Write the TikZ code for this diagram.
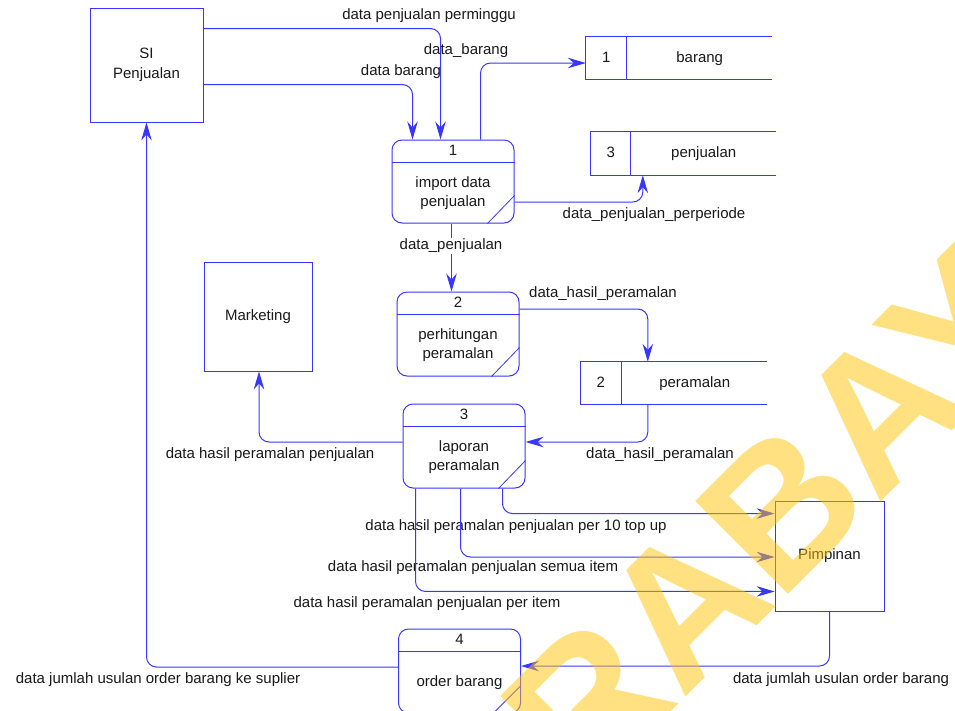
\documentclass[tikz,border=0pt]{standalone}
\usepackage{fontspec}
\setmainfont{Liberation Sans}
\usetikzlibrary{arrows.meta}
\definecolor{lnblue}{RGB}{55,55,255}
\definecolor{txt}{RGB}{25,25,25}
\definecolor{wmyellow}{RGB}{255,195,5}
\tikzset{
  base/.style={font=\fontsize{15}{19.5}\selectfont, text=txt},
  proc/.style={draw=lnblue, line width=1pt, rounded corners=10pt, minimum width=122pt, minimum height=84pt, inner sep=0pt},
  ent/.style={draw=lnblue, line width=0.9pt, inner sep=0pt, align=center},
  store/.style={inner sep=0pt, minimum width=186pt, minimum height=42pt},
  edge/.style={draw=lnblue, line width=1pt},
  stxt/.style={text height=11pt, text depth=3pt},
  flow/.style={draw=lnblue, line width=1pt, rounded corners=10pt, -{Stealth[length=18pt,width=10.5pt,inset=6pt]}},
  lbl/.style={inner sep=1pt, align=center},
}
\begin{document}
\begin{tikzpicture}[x=1pt,y=-1pt,base]
\useasboundingbox (0,0) rectangle (955,710);

% external entities
\node[ent, minimum width=113pt, minimum height=114pt] (si) at (146.5,65) {SI\\Penjualan};
\node[ent, minimum width=108pt, minimum height=109pt] (mkt) at (258,316.5) {Marketing};
\node[ent, minimum width=109pt, minimum height=110pt] (pim) at (829.5,556) {Pimpinan};

% processes
\node[proc, minimum height=83pt] (p1) at (453,181.5) {};
\draw[edge] ([yshift=-23pt]p1.north west) -- ([yshift=-23pt]p1.north east);
\draw[edge, line width=0.8pt] ([xshift=-27pt]p1.south east) -- ([yshift=28pt]p1.south east);
\node[stxt] (p1n) at ([yshift=-11.5pt]p1.north) {1};
\node[align=center] (p1t) at ([yshift=-11.5pt]p1.center) {import data\\penjualan};

\node[proc] (p2) at (458,334) {};
\draw[edge] ([yshift=-23pt]p2.north west) -- ([yshift=-23pt]p2.north east);
\draw[edge, line width=0.8pt] ([xshift=-28pt]p2.south east) -- ([yshift=29pt]p2.south east);
\node[stxt] (p2n) at ([yshift=-11.5pt]p2.north) {2};
\node[align=center] (p2t) at ([yshift=-11pt]p2.center) {perhitungan\\peramalan};

\node[proc] (p3) at (464,446) {};
\draw[edge] ([yshift=-23pt]p3.north west) -- ([yshift=-23pt]p3.north east);
\draw[edge, line width=0.8pt] ([xshift=-27pt]p3.south east) -- ([yshift=28pt]p3.south east);
\node[stxt] (p3n) at ([yshift=-11.5pt]p3.north) {3};
\node[align=center] (p3t) at ([yshift=-11pt]p3.center) {laporan\\peramalan};

\node[proc] (p4) at (459.5,671) {};
\draw[edge] ([yshift=-23pt]p4.north west) -- ([yshift=-23pt]p4.north east);
\draw[edge, line width=0.8pt] ([xshift=-28pt]p4.south east) -- ([yshift=28pt]p4.south east);
\node[stxt] (p4n) at ([yshift=-11.5pt]p4.north) {4};
\node[stxt] (p4t) at ([yshift=-11pt]p4.center) {order barang};

% data stores
\node[store] (d1) at (679,58) {};
\draw[edge] (d1.north east) -- (d1.north west) -- (d1.south west) -- (d1.south east);
\draw[edge] ([xshift=41pt]d1.north west) -- ([xshift=41pt]d1.south west);
\node[stxt] (d1n) at ([xshift=20.5pt]d1.west) {1};
\node[stxt] (d1t) at ([xshift=-72.5pt]d1.east) {barang};

\node[store, minimum width=185pt, minimum height=43pt] (d3) at (683.5,153.5) {};
\draw[edge] (d3.north east) -- (d3.north west) -- (d3.south west) -- (d3.south east);
\draw[edge] ([xshift=40pt]d3.north west) -- ([xshift=40pt]d3.south west);
\node[stxt] (d3n) at ([xshift=20pt]d3.west) {3};
\node[stxt] (d3t) at ([xshift=-72.5pt]d3.east) {penjualan};

\node[store] (d2) at (674,383) {};
\draw[edge] (d2.north east) -- (d2.north west) -- (d2.south west) -- (d2.south east);
\draw[edge] ([xshift=41pt]d2.north west) -- ([xshift=41pt]d2.south west);
\node[stxt] (d2n) at ([xshift=20pt]d2.west) {2};
\node[stxt] (d2t) at ([xshift=-72.5pt]d2.east) {peramalan};

% flows
\draw[flow] ([yshift=-21pt]si.north east) -| ([xshift=49pt]p1.north west);
\node[lbl] (l1) at (429,16) {data penjualan perminggu};

\draw[flow] ([yshift=-77pt]si.north east) -| ([xshift=21pt]p1.north west);
\node[lbl] (l2) at (401,72) {data barang};

\draw[flow] ([xshift=89pt]p1.north west) |- ([yshift=-5pt]d1.west);
\node[lbl] (l3) at (466,51) {data\_barang};

\draw[flow] ([yshift=-20.5pt]p1.east) -| ([xshift=52pt]d3.south west);
\node[lbl] (l4) at (654,215) {data\_penjualan\_perperiode};

\draw[flow] ([xshift=60pt]p1.south west) -- ([xshift=55pt]p2.north west);
\node[lbl, fill=white] (l5) at (451,246) {data\_penjualan};

\draw[flow] ([yshift=25pt]p2.east) -| ([xshift=67pt]d2.north west);
\node[lbl] (l6) at (603,294) {data\_hasil\_peramalan};

\draw[flow] ([xshift=67pt]d2.south west) |- ([yshift=4pt]p3.east);
\node[lbl] (l7) at (660,455) {data\_hasil\_peramalan};

\draw[flow] ([yshift=4pt]p3.west) -| ([xshift=1pt]mkt.south);
\node[lbl] (l8) at (270,455) {data hasil peramalan penjualan};

\draw[flow] ([xshift=100pt]p3.south west) |- ([yshift=-13pt]pim.north west);
\node[lbl] (l9) at (516,527) {data hasil peramalan penjualan per 10 top up};

\draw[flow] ([xshift=58pt]p3.south west) |- ([yshift=-1pt]pim.west);
\node[lbl] (l10) at (473,568) {data hasil peramalan penjualan semua item};

\draw[flow] ([xshift=13pt]p3.south west) |- ([yshift=20pt]pim.south west);
\node[lbl] (l11) at (427,604) {data hasil peramalan penjualan per item};

\draw[flow] (pim.south) |- ([yshift=5pt]p4.east);
\node[lbl] (l12) at (841,680) {data jumlah usulan order barang};

\draw[flow] ([yshift=4pt]p4.west) -| (si.south);
\node[lbl] (l13) at (158,680) {data jumlah usulan order barang ke suplier};

% watermark
\begin{scope}
\clip (0,0) rectangle (955,710);
\node[rotate=45, anchor=base west, inner sep=0pt, text=wmyellow, opacity=0.5,
      font=\fontsize{191}{191}\selectfont\bfseries] (wm) at (397,986) {SURABAYA};
\end{scope}
\end{tikzpicture}
\end{document}
